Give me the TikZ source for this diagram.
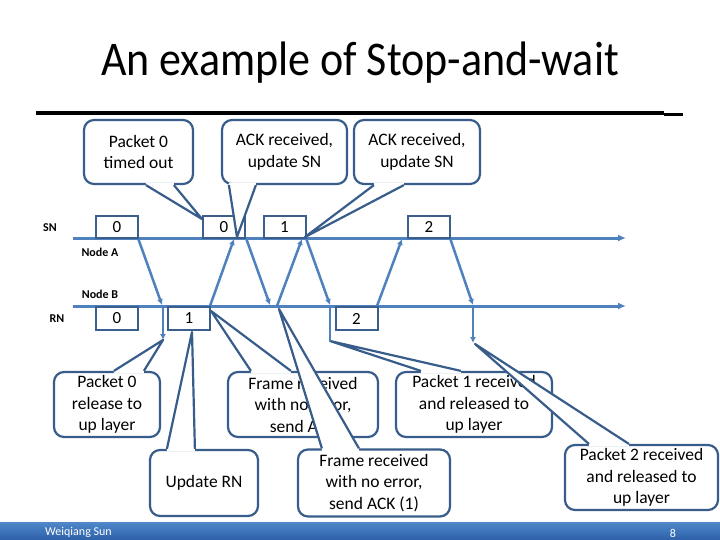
\documentclass[tikz,border=0pt]{standalone}
\usepackage{fontspec}
\setmainfont{Carlito}
\usetikzlibrary{arrows.meta,calc}
\definecolor{lineblue}{HTML}{4F81BD}
\definecolor{cborder}{HTML}{385D8A}
\definecolor{boxborder}{HTML}{3A5F8C}
\definecolor{barTop}{HTML}{5088CA}
\definecolor{barBot}{HTML}{2C60A8}
\tikzset{
  timeline/.style={draw=lineblue, line width=3pt, -{Latex[length=8pt,width=7pt]}},
  msg/.style={draw=lineblue, line width=2.5pt, -{Latex[length=6pt,width=6pt]}},
  numbox/.style={draw=boxborder, fill=white, line width=2pt, minimum width=42, minimum height=22, inner sep=0pt, font=\fontsize{17}{17}\selectfont},
  lbl/.style={font=\bfseries\fontsize{12}{12}\selectfont, inner sep=0pt},
  cbox/.style={draw=cborder, fill=white, line width=2.2pt, rounded corners=10pt, align=center, inner sep=0pt, font=\fontsize{17.5}{21.5}\selectfont},
  ptrline/.style={draw=cborder, line width=2.2pt, line join=round},
}
% #1 node, #2 anchor, #3 #4 x-offsets of base, #5 tip, #6 inward dy
\newcommand\callptr[6]{%
  \coordinate (#1-b1) at ($(#1.#2)+(#3,0)$);
  \coordinate (#1-b2) at ($(#1.#2)+(#4,0)$);
  \fill[white] (#5) -- (#1-b1) -- ($(#1-b1)+(0,#6)$) -- ($(#1-b2)+(0,#6)$) -- (#1-b2) -- cycle;
  \draw[ptrline] (#1-b1) -- (#5) -- (#1-b2);
}
\begin{document}
\begin{tikzpicture}[x=1pt,y=-1pt]
\useasboundingbox (0,0) rectangle (720,540);
\fill[white] (0,0) rectangle (720,540);

% title
\node[anchor=base, font=\fontsize{44}{44}\selectfont, inner sep=0pt] (title) at (360,76) {\scalebox{1}[1.1]{An example of Stop-and-wait}};
\draw[line width=3.5pt] (36,113) -- (664,113);
\draw[line width=2.5pt] (664,114.5) -- (683,114.5);

% timelines
\coordinate (snS) at (73,238); \coordinate (snE) at (626,238);
\coordinate (rnS) at (73,306); \coordinate (rnE) at (626,306);
\draw[timeline] (snS) -- (snE);
\draw[timeline] (rnS) -- (rnE);

% message end points
\coordinate (f0s) at (138,238); \coordinate (f0e) at (162,305);
\coordinate (f0rs) at (246,238); \coordinate (f0re) at (270,305);
\coordinate (f1s) at (306,238); \coordinate (f1e) at (330,305);
\coordinate (f2s) at (450,238); \coordinate (f2e) at (473,305);
\coordinate (a1s) at (210,306); \coordinate (a1e) at (234,239);
\coordinate (a2s) at (277,306); \coordinate (a2e) at (302,239);
\coordinate (a3s) at (377,306); \coordinate (a3e) at (402,239);
\draw[msg] (f0s) -- (f0e);
\draw[msg] (f0rs) -- (f0re);
\draw[msg] (f1s) -- (f1e);
\draw[msg] (f2s) -- (f2e);
\draw[msg] (a1s) -- (a1e);
\draw[msg] (a2s) -- (a2e);
\draw[msg] (a3s) -- (a3e);

% number boxes
\node[numbox] (sn0) at (117,227) {0};
\node[numbox] (sn0b) at (224,227) {0};
\node[numbox] (sn1) at (284.5,227) {1};
\node[numbox] (sn2) at (429,227) {2};
\node[numbox, minimum height=23] (rn0) at (117,318.5) {0};
\node[numbox, minimum height=23] (rn1) at (189,318.5) {1};
\node[numbox, minimum height=23] (rn2) at (356.5,318.5) {2};

% labels
\node[lbl] (lsn) at (50,228) {SN};
\node[lbl] (lna) at (100,252) {Node A};
\node[lbl] (lnb) at (100,294) {Node B};
\node[lbl] (lrn) at (57,319) {RN};

% tips
\coordinate (t1) at (202,219);
\coordinate (t2) at (237,237);
\coordinate (t3) at (305,237);
\coordinate (t4) at (163,340);
\coordinate (t5) at (211,311);
\coordinate (t6) at (192,332);
\coordinate (t7) at (279,309);
\coordinate (t8) at (330,341);
\coordinate (t9) at (475,344);

% callouts
\node[cbox, minimum width=109, minimum height=64] (c1) at (138.5,152) {Packet 0\\timed out};
\callptr{c1}{south west}{63}{91}{t1}{-2.5}
\node[cbox, minimum width=125, minimum height=64] (c2) at (284.5,152) {ACK received,\\update SN};
\callptr{c2}{south west}{8}{35}{t2}{-2.5}
\node[cbox, minimum width=126, minimum height=64] (c3) at (417,152) {ACK received,\\update SN};
\callptr{c3}{south west}{21}{51}{t3}{-2.5}

\node[cbox, minimum width=106, minimum height=65] (c4) at (107,404.5) {Packet 0\\release to\\up layer};
\callptr{c4}{north west}{61}{91}{t4}{2.5}
\node[cbox, minimum width=150, minimum height=65] (c5) at (303,404.5) {Frame received\\with no error,\\send ACK};
\callptr{c5}{north west}{24}{64}{t5}{2.5}
\node[cbox, minimum width=108, minimum height=66] (c6) at (204,483) {Update RN};
\callptr{c6}{north west}{18}{46}{t6}{2.5}
\node[cbox, minimum width=152, minimum height=67] (c7) at (374,483) {Frame received\\with no error,\\send ACK (1)};
\callptr{c7}{north west}{25}{62}{t7}{2.5}
\node[cbox, minimum width=156, minimum height=65] (c8) at (474,404.5) {Packet 1 received\\and released to\\up layer};
\callptr{c8}{north west}{26}{66}{t8}{2.5}
\node[cbox, minimum width=153, minimum height=65] (c9) at (641.5,477.5) {Packet 2 received\\and released to\\up layer};
\callptr{c9}{north west}{25}{65}{t9}{2.5}

% delivery to upper layer
\coordinate (d0s) at (163,306);
\coordinate (d1s) at (330,306);
\coordinate (d2s) at (473,306);
\coordinate (d2e) at (473,343);
\draw[msg] (d0s) -- (t4);
\draw[draw=lineblue, line width=2.5pt] (d1s) -- (t8);
\draw[msg] (d2s) -- (d2e);

% footer
\shade[top color=barTop, bottom color=barBot] (0,522) rectangle (720,540);
\node[anchor=west, text=white, font=\fontsize{12}{12}\selectfont, inner sep=0pt] (auth) at (45,532) {Weiqiang Sun};
\node[text=white, font=\fontsize{12}{12}\selectfont, inner sep=0pt] (pg) at (673,533) {8};
\end{tikzpicture}
\end{document}
